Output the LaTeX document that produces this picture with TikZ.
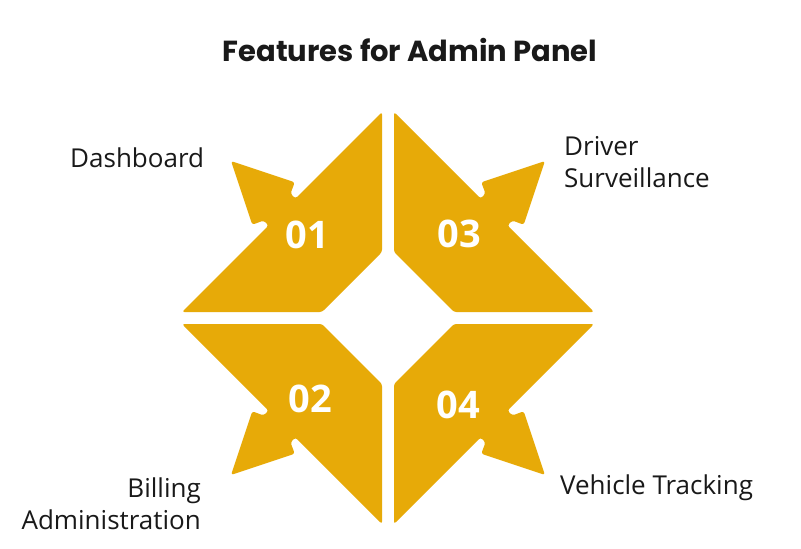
\documentclass[tikz,border=0pt]{standalone}
\usepackage{fontspec}
\setmainfont{Open Sans}
\newfontfamily\titlefont{Poppins}
\definecolor{gold}{RGB}{231,170,8}
\definecolor{ink}{RGB}{25,25,25}
\tikzset{
  piece/.style={fill=gold, rounded corners=2.5pt},
  num/.style={text=white, inner sep=0pt, font=\bfseries\fontsize{38}{38}\selectfont},
  lbl/.style={text=ink, inner sep=0pt, font=\fontsize{26}{32}\selectfont}
}
\begin{document}
\begin{tikzpicture}[x=1pt,y=-1pt]
\useasboundingbox (0,0) rectangle (801,549);
\fill[white] (0,0) rectangle (801,549);
\foreach \sx/\sy in {1/1,-1/1,1/-1,-1/-1} {
  \begin{scope}[shift={(388,318)}, xscale=\sx, yscale=\sy]
    \path[piece] (-206,-6) -- (-66,-6) -- (-6,-66) -- (-6,-206)
      -- (-92.57,-119.43) -- (-97.51,-124.38) -- (-93.27,-135.70)
      -- (-156.91,-156.91) -- (-135.70,-93.27) -- (-124.38,-97.51)
      -- (-119.43,-92.57) -- cycle;
  \end{scope}
}
\node[font=\titlefont\bfseries\fontsize{29}{32}\selectfont, text=ink] (title) at (410,50) {Features for Admin Panel};
\node[num] (n01) at (307,235) {01};
\node[num] (n03) at (459,234) {03};
\node[num] (n02) at (310,399) {02};
\node[num] (n04) at (458,405) {04};
\node[lbl, anchor=west] (dash) at (70,158) {Dashboard};
\node[lbl, anchor=west, align=left] (drv) at (564,162) {Driver\\Surveillance};
\node[lbl, anchor=east, align=right] (bill) at (201,504) {Billing\\Administration};
\node[lbl, anchor=west] (veh) at (560,488) {Vehicle Tracking};
\end{tikzpicture}
\end{document}
